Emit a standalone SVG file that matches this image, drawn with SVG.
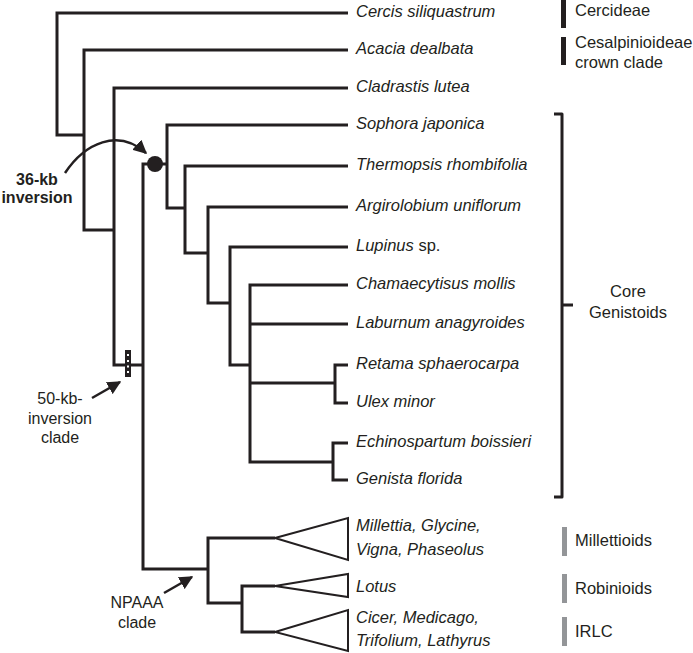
<svg xmlns="http://www.w3.org/2000/svg" width="693" height="653" viewBox="0 0 693 653">
<style>
.br{fill:none;stroke:#231f20;stroke-width:3;stroke-linejoin:miter}
.tri{fill:#fff;stroke:#231f20;stroke-width:2;stroke-linejoin:miter}
.tx{font-family:"Liberation Sans",Arial,sans-serif;font-style:italic;font-size:16.5px;fill:#231f20}
.lb{font-family:"Liberation Sans",Arial,sans-serif;font-size:16.5px;fill:#231f20}
.an{font-family:"Liberation Sans",Arial,sans-serif;font-size:16px;fill:#231f20;text-anchor:middle}
.bold{font-weight:bold}
.arw{fill:none;stroke:#231f20;stroke-width:2.5}
</style>
<defs>
<marker id="ah" viewBox="0 0 10 10" refX="9" refY="5" markerWidth="5.5" markerHeight="5.5" orient="auto" markerUnits="strokeWidth">
<path d="M0,0 L10,5 L0,10 Z" fill="#231f20"/>
</marker>
</defs>
<rect width="693" height="653" fill="#fff"/>
<g id="connectors">
<path class="br" d="M348,13 H57 V135 H84"/>
<path class="br" d="M348,50 H84 V230 H114"/>
<path class="br" d="M348,88 H114 V365 H143"/>
<path class="br" d="M155,164 H143 V569 H208"/>
<path class="br" d="M155,164 H167"/>
<path class="br" d="M348,125 H167 V208 H185"/>
<path class="br" d="M348,166 H185 V253 H208"/>
<path class="br" d="M348,207 H208 V303 H230"/>
<path class="br" d="M348,247 H230 V365 H250"/>
<path class="br" d="M348,285 H250 V462 H333"/>
<path class="br" d="M348,324 H250"/>
<path class="br" d="M250,383 H335"/>
<path class="br" d="M348,365 H335 V403 H348"/>
<path class="br" d="M348,443 H333 V480 H348"/>
<path class="br" d="M275,538 H208 V603 H242"/>
<path class="br" d="M275,586 H242 V632 H275"/>
<path class="arw" d="M65,173 C85,143 118,128 146,153" marker-end="url(#ah)"/>
<path class="arw" d="M92,398 L120,382" marker-end="url(#ah)"/>
<path class="arw" d="M164,593 L192,577" marker-end="url(#ah)"/>
</g>
<g id="node-36kb">
<circle cx="155" cy="164" r="8" fill="#231f20"/>
<text class="an bold" x="37" y="185">36-kb</text>
<text class="an bold" x="37" y="203">inversion</text>
</g>
<g id="node-50kb">
<rect x="125" y="350" width="6" height="27" fill="#231f20"/>
<rect x="127" y="354" width="2" height="2" fill="#fff"/>
<rect x="127" y="360" width="2" height="2" fill="#fff"/>
<rect x="127" y="365.5" width="2" height="2" fill="#fff"/>
<rect x="127" y="371" width="2" height="2" fill="#fff"/>
<text class="an" x="60" y="404">50-kb-</text>
<text class="an" x="60" y="424">inversion</text>
<text class="an" x="60" y="443">clade</text>
</g>
<g id="node-npaaa">
<text class="an" x="137" y="608">NPAAA</text>
<text class="an" x="137" y="628">clade</text>
</g>
<g id="taxa">
<g id="t-cercis"><text class="tx" x="356" y="17">Cercis siliquastrum</text></g>
<g id="t-acacia"><text class="tx" x="356" y="54">Acacia dealbata</text></g>
<g id="t-cladrastis"><text class="tx" x="356" y="92">Cladrastis lutea</text></g>
<g id="t-sophora"><text class="tx" x="356" y="129">Sophora japonica</text></g>
<g id="t-thermopsis"><text class="tx" x="356" y="170">Thermopsis rhombifolia</text></g>
<g id="t-argirolobium"><text class="tx" x="356" y="211">Argirolobium uniflorum</text></g>
<g id="t-lupinus"><text class="tx" x="356" y="251">Lupinus <tspan font-style="normal">sp.</tspan></text></g>
<g id="t-chamaecytisus"><text class="tx" x="356" y="289">Chamaecytisus mollis</text></g>
<g id="t-laburnum"><text class="tx" x="356" y="328">Laburnum anagyroides</text></g>
<g id="t-retama"><text class="tx" x="356" y="369">Retama sphaerocarpa</text></g>
<g id="t-ulex"><text class="tx" x="356" y="407">Ulex minor</text></g>
<g id="t-echinospartum"><text class="tx" x="356" y="447">Echinospartum boissieri</text></g>
<g id="t-genista"><text class="tx" x="356" y="484">Genista florida</text></g>
<g id="t-millettia">
<path class="tri" d="M275,538 L348,518 L348,560 Z"/>
<text class="tx" x="356" y="531">Millettia, Glycine,</text>
<text class="tx" x="356" y="555">Vigna, Phaseolus</text>
</g>
<g id="t-lotus">
<path class="tri" d="M275,586 L348,574 L348,597 Z"/>
<text class="tx" x="356" y="592">Lotus</text>
</g>
<g id="t-cicer">
<path class="tri" d="M275,632 L348,610 L348,651 Z"/>
<text class="tx" x="356" y="623">Cicer, Medicago,</text>
<text class="tx" x="356" y="646">Trifolium, Lathyrus</text>
</g>
</g>
<g id="clades">
<g id="c-cercideae"><rect x="561" y="0" width="5" height="28" fill="#231f20"/><text class="lb" x="575" y="16">Cercideae</text></g>
<g id="c-cesalp"><rect x="561" y="37" width="5" height="28" fill="#231f20"/><text class="lb" x="575" y="48">Cesalpinioideae</text><text class="lb" x="575" y="68">crown clade</text></g>
<g id="c-core">
<path d="M554,114 H562 V497 H554 M562,305 H573" fill="none" stroke="#231f20" stroke-width="3" stroke-linejoin="round"/>
<text class="lb" x="628" y="297" text-anchor="middle">Core</text>
<text class="lb" x="628" y="318" text-anchor="middle">Genistoids</text>
</g>
<g id="c-millettioids"><rect x="562" y="527" width="5" height="29" fill="#939598"/><text class="lb" x="575" y="546">Millettioids</text></g>
<g id="c-robinioids"><rect x="562" y="574" width="5" height="29" fill="#939598"/><text class="lb" x="575" y="594">Robinioids</text></g>
<g id="c-irlc"><rect x="562" y="617" width="5" height="29" fill="#939598"/><text class="lb" x="575" y="637">IRLC</text></g>
</g>
</svg>
